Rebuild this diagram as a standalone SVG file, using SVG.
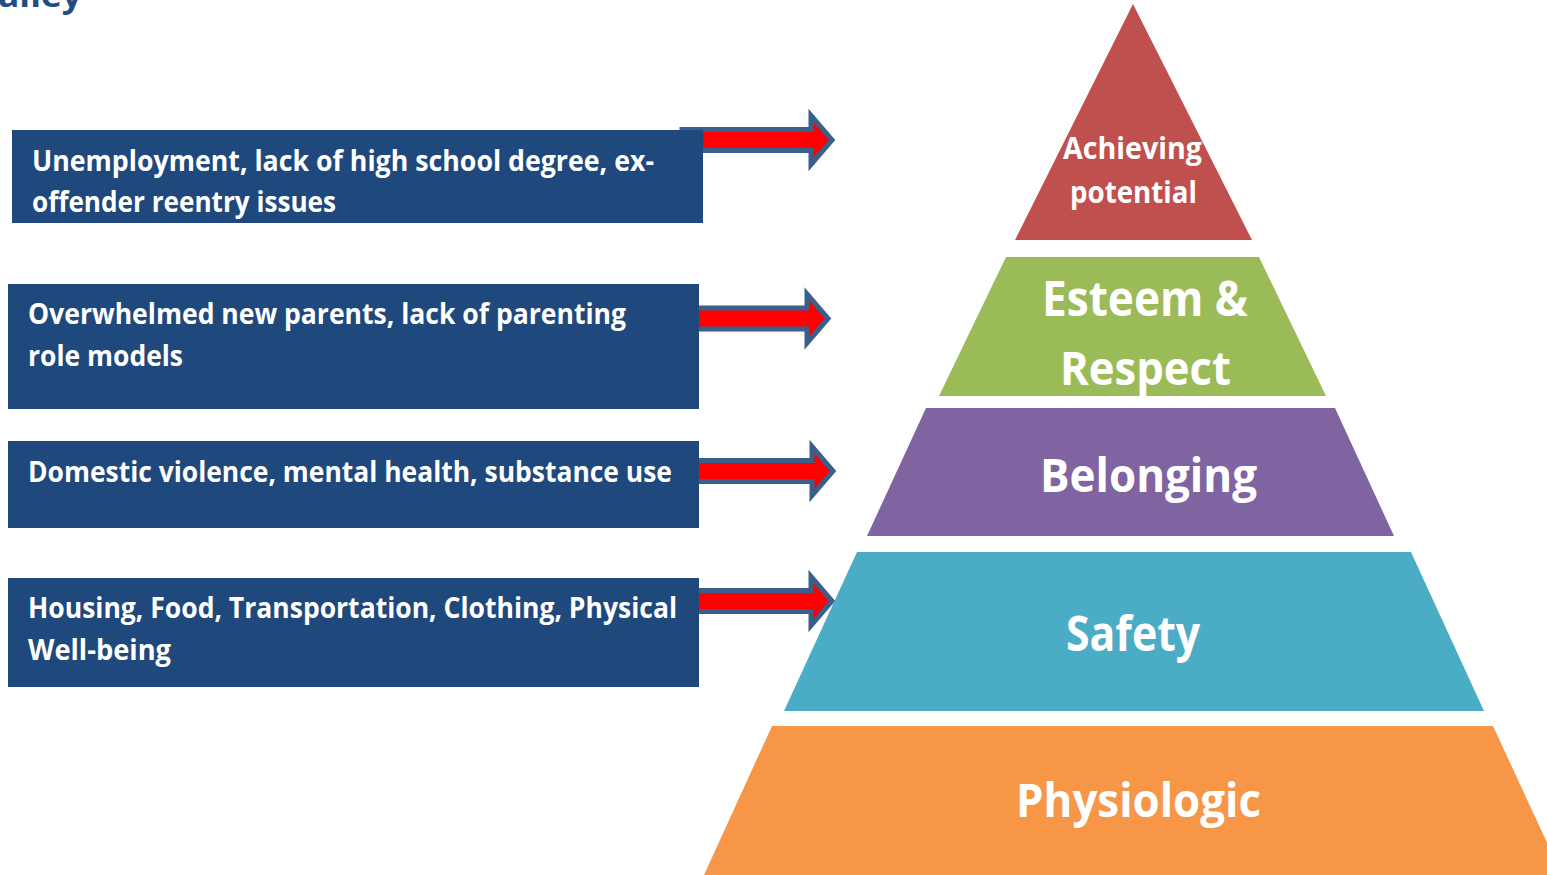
<svg xmlns="http://www.w3.org/2000/svg" width="1547" height="875" viewBox="0 0 1547 875">
<style>
.box{fill:#1F497D}
.bt{font-family:"Open Sans","Noto Sans",sans-serif;font-weight:700;font-size:28px;fill:#FFFFFF}
.pt{font-family:"Open Sans","Noto Sans",sans-serif;font-weight:700;fill:#FFFFFF}
.arrow{fill:#FF0000;stroke:#3A5F8B;stroke-width:5;stroke-linejoin:miter}
</style>
<defs>
<path id="arr" d="M-150,-10.5 H-21 V-24.5 L0,0 L-21,24.5 V10.5 H-150 Z"/>
</defs>
<rect width="1547" height="875" fill="#FFFFFF"/>
<text x="-2" y="7" font-family="Open Sans, sans-serif" font-weight="700" font-size="32" fill="#1F4E87" textLength="84" lengthAdjust="spacingAndGlyphs">alley</text>

<g id="connectors">
<use href="#arr" class="arrow" transform="translate(832,140)"/>
<use href="#arr" class="arrow" transform="translate(828,318.5)"/>
<use href="#arr" class="arrow" transform="translate(833,471)"/>
<use href="#arr" class="arrow" transform="translate(832,601)"/>
</g>

<g id="box1">
<rect class="box" x="12" y="130" width="691" height="93"/>
<text class="bt" x="32" y="171" textLength="622" lengthAdjust="spacingAndGlyphs">Unemployment, lack of high school degree, ex-</text>
<text class="bt" x="32" y="212" textLength="304" lengthAdjust="spacingAndGlyphs">offender reentry issues</text>
</g>
<g id="box2">
<rect class="box" x="8" y="284" width="691" height="125"/>
<text class="bt" x="28" y="324" textLength="598" lengthAdjust="spacingAndGlyphs">Overwhelmed new parents, lack of parenting</text>
<text class="bt" x="28" y="366" textLength="155" lengthAdjust="spacingAndGlyphs">role models</text>
</g>
<g id="box3">
<rect class="box" x="8" y="441" width="691" height="87"/>
<text class="bt" x="28" y="482" textLength="644" lengthAdjust="spacingAndGlyphs">Domestic violence, mental health, substance use</text>
</g>
<g id="box4">
<rect class="box" x="8" y="578" width="691" height="109"/>
<text class="bt" x="28" y="618" textLength="649" lengthAdjust="spacingAndGlyphs">Housing, Food, Transportation, Clothing, Physical</text>
<text class="bt" x="28" y="660" textLength="143" lengthAdjust="spacingAndGlyphs">Well-being</text>
</g>

<g id="level-achieving">
<polygon points="1133,4 1252,240 1015,240" fill="#C0504D"/>
<text class="pt" x="1063" y="159" font-size="31" textLength="139" lengthAdjust="spacingAndGlyphs">Achieving</text>
<text class="pt" x="1070" y="203" font-size="31" textLength="127" lengthAdjust="spacingAndGlyphs">potential</text>
</g>
<g id="level-esteem">
<polygon points="1006,257 1259,257 1326,396 939,396" fill="#9BBB59"/>
<text class="pt" x="1042" y="316" font-size="48" textLength="206" lengthAdjust="spacingAndGlyphs">Esteem &amp;</text>
<text class="pt" x="1060" y="385" font-size="47" textLength="171" lengthAdjust="spacingAndGlyphs">Respect</text>
</g>
<g id="level-belonging">
<polygon points="926,408 1335,408 1394,536 867,536" fill="#8064A2"/>
<text class="pt" x="1040" y="492" font-size="47" textLength="217" lengthAdjust="spacingAndGlyphs">Belonging</text>
</g>
<g id="level-safety">
<polygon points="857,552 1411,552 1484,711 784,711" fill="#4BACC6"/>
<text class="pt" x="1066" y="651" font-size="48" textLength="134" lengthAdjust="spacingAndGlyphs">Safety</text>
</g>
<g id="level-physiologic">
<polygon points="772,726 1493,726 1562,875 704,875" fill="#F79646"/>
<text class="pt" x="1016" y="817" font-size="46" textLength="245" lengthAdjust="spacingAndGlyphs">Physiologic</text>
</g>
</svg>
